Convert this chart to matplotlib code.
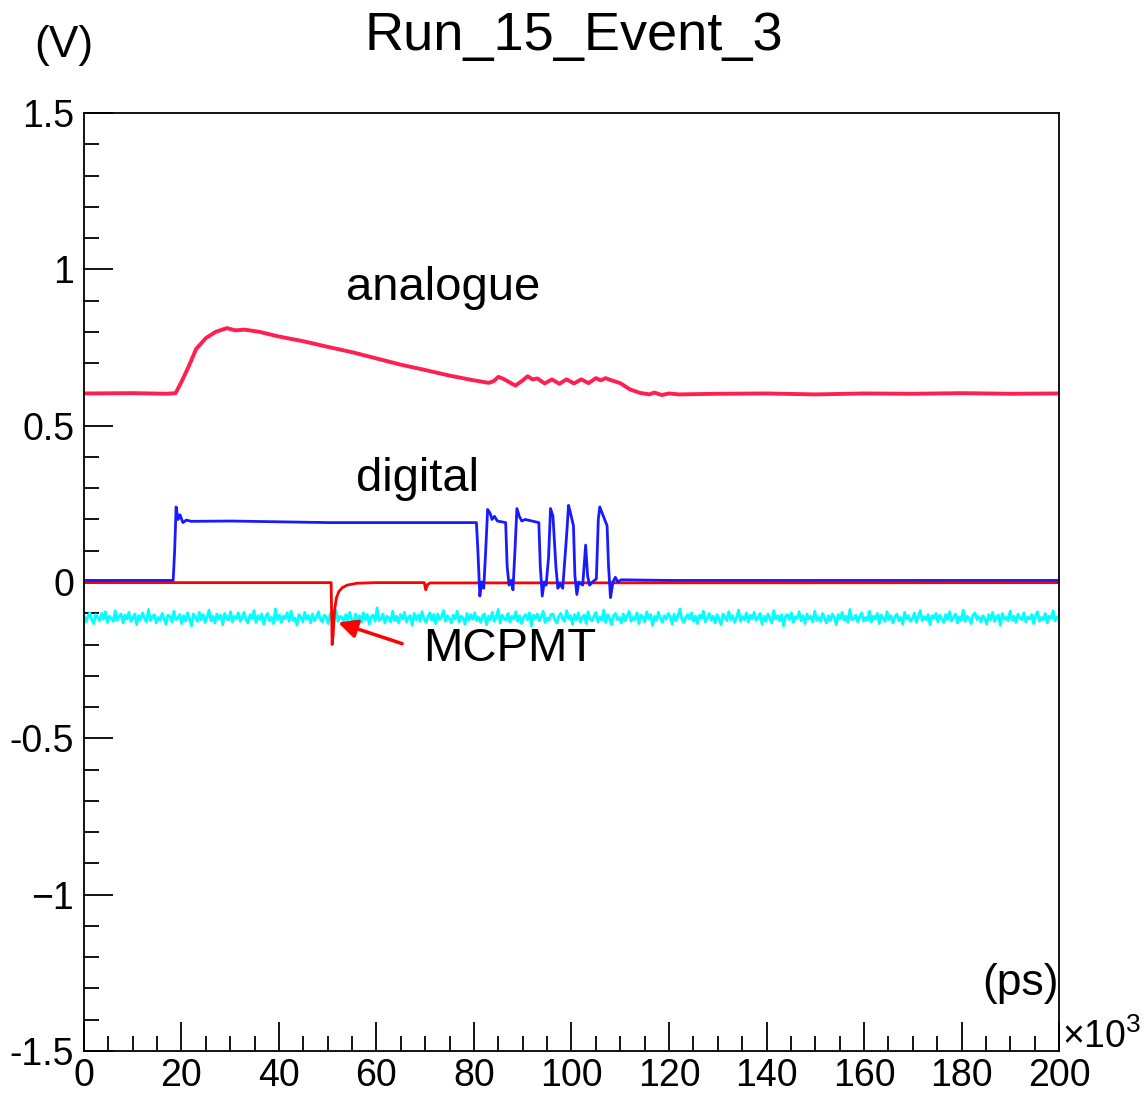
import numpy as np
import matplotlib
matplotlib.use("Agg")
import matplotlib.pyplot as plt
from matplotlib.ticker import MultipleLocator, FixedLocator, FixedFormatter

plt.rcParams['font.family'] = ['Liberation Sans', 'DejaVu Sans']
plt.rcParams['mathtext.fontset'] = 'custom'
plt.rcParams['mathtext.rm'] = 'Liberation Sans'

# time in units of 10^3 ps, amplitude in V
# analogue channel (pink-red)
analogue_t = [0, 10, 17, 18.8, 20, 21.5, 23, 25, 27, 29.3, 31, 33, 36, 40, 45, 50, 55, 60,
              65, 70, 75, 80, 83, 84, 85, 86, 88.5, 90, 91, 92, 93, 94.5, 96, 97.5, 99,
              100.5, 102, 103.5, 105, 106, 107, 108, 110, 112, 114, 116, 117, 118.5, 120,
              122, 130, 140, 150, 160, 170, 180, 190, 200]
analogue_v = [0.603, 0.604, 0.602, 0.604, 0.64, 0.69, 0.745, 0.78, 0.80, 0.812, 0.805, 0.807,
              0.80, 0.785, 0.77, 0.752, 0.735, 0.715, 0.695, 0.678, 0.66, 0.645, 0.637,
              0.642, 0.656, 0.65, 0.628, 0.645, 0.658, 0.648, 0.651, 0.635, 0.648, 0.634,
              0.648, 0.635, 0.648, 0.636, 0.652, 0.645, 0.652, 0.646, 0.636, 0.616, 0.605,
              0.600, 0.606, 0.598, 0.603, 0.600, 0.602, 0.603, 0.600, 0.603, 0.602, 0.604,
              0.602, 0.603]

# digital channel (blue)
digital_t = [0, 18.3, 18.6, 18.9, 19.3, 19.7, 20.3, 21, 22, 30, 50, 80.5, 80.8, 81.2, 81.6,
             82.0, 82.4, 82.8, 83.3, 83.7, 84.2, 84.8, 86.5, 86.8, 87.2, 87.6, 88.0, 88.4,
             88.8, 89.3, 89.8, 90.5, 93.3, 93.6, 94.0, 94.4, 94.8, 95.3, 95.7, 96.2, 96.8,
             97.2, 97.6, 98.2, 99.0, 99.4, 99.8, 100.4, 100.7, 101.1, 101.5, 102.3, 102.9,
             103.3, 103.7, 104.3, 105.1, 105.5, 105.8, 106.3, 107.3, 107.6, 108.0, 108.5,
             109.0, 109.5, 110.2, 120, 200]
digital_v = [0.005, 0.005, 0.10, 0.24, 0.20, 0.215, 0.19, 0.198, 0.194, 0.195, 0.19, 0.19,
             0.10, -0.045, 0.0, -0.02, 0.10, 0.232, 0.22, 0.20, 0.21, 0.195, 0.19, 0.05,
             -0.01, 0.005, -0.025, 0.10, 0.235, 0.21, 0.195, 0.20, 0.19, 0.05, -0.045, 0.0,
             -0.01, 0.08, 0.235, 0.21, 0.05, -0.02, -0.005, -0.02, 0.15, 0.245, 0.22, 0.18,
             0.02, -0.04, 0.0, -0.01, 0.118, 0.02, -0.01, 0.0, 0.01, 0.20, 0.24, 0.22, 0.18,
             0.05, -0.05, 0.0, 0.015, 0.0, 0.007, 0.005, 0.005]

# MCPMT channel (red)
mcp_t = [0, 50.7, 50.9, 51.1, 51.4, 51.8, 52.3, 53, 54, 56, 60, 69.8, 70.1, 70.5, 71, 200]
mcp_v = [-0.002, -0.002, -0.20, -0.17, -0.09, -0.05, -0.03, -0.018, -0.01, -0.004,
         -0.002, -0.002, -0.025, -0.008, -0.003, -0.002]

# fourth channel (cyan): baseline in mV, noise in digitiser counts
cyan_base_mv = -115
cyan_count_mv = 1.8
cyan_noise_counts = [
    4, -7, 2, 9, -3, -10, 6, 1, -5, 8, -2, 11, -8, 3, -1, -6, 13, -4, 2, 7,
    -9, 5, -2, 10, -6, 0, 7, -12, 4, -3, 9, -1, -7, 15, -5, 2, 6, -9, 1, -4,
    8, -2, -11, 5, 3, -7, 12, -3, 0, 6, -10, 4, -5, 9, -1, -14, 7, 2, -6, 10,
    -3, 6, -8, 1, 14, -5, 3, -9, 7, -2, 5, -12, 8, 0, -4, 11, -7, 3, -1, 9,
    -6, 2, 10, -4, -9, 6, -1, 13, -8, 4, -3, 7, -11, 2, 8, -5, 1, -10, 16, -3,
    5, -8, 3, -1, 9, -6, 12, -4, 0, -13, 6, 2, -7, 10, -2, 4, -9, 7, -5, 1,
    11, -3, -7, 5, 2, -10, 8, -1, -5, 14, -6, 3, 1, -9, 6, -4, 10, -2, -12, 7,
    -1, 4, -8, 9, -3, 6, -11, 2, 5, -6, 18, -4, -2, 7, -9, 3, 0, -7, 12, -5,
    3, -9, 6, -2, 10, -7, 1, 4, -13, 8, -3, 5, -6, 11, -1, -8, 2, 9, -4, 6,
    -10, 7, -3, 2, 13, -6, 4, -1, -9, 5, -2, 12, -7, 3, 0, -11, 8, -4, 6, -2,
    9, -5, 1, -8, 4, 7, -12, 3, -3, 10, -6, 2, 15, -9, 5, -1, -4, 8, -7, 3,
    -2, 11, -6, 4, -10, 1, 6, -3, 9, -14, 5, -1, 7, -5, 2, 12, -8, 0, -4, 6,
    7, -4, -9, 3, 8, -2, -6, 13, -1, 4, -11, 6, -3, 9, -7, 1, 5, -10, 11, -2,
    -5, 3, 10, -7, 2, -4, 14, -8, 6, -1, -12, 4, 8, -3, 1, -9, 7, -5, 3, 12,
    -6, 1, -3, 9, -10, 5, 2, -7, 11, -2, 6, -13, 3, -4, 10, -1, -8, 4, -2, 8,
    2, -11, 7, -5, 4, 16, -3, -8, 1, 6, -2, 9, -6, 3, -10, 5, -1, 12, -7, 0,
    8, -4, 3, -9, 6, -1, -12, 7, 2, -5, 11, -3, 4, -8, 1, 14, -6, 2, -3, 9,
    -7, 5, -2, 10, -4, 1, 8, -11, 3, -6, 7, 0, -9, 13, -2, 4, -5, 6, -14, 3,
    6, -3, 9, -8, 2, -1, 11, -5, 4, -10, 7, -2, 3, -7, 12, -4, 1, -6, 8, -1,
    -9, 4, -5, 7, 1, -12, 6, -2, 10, -4, 3, -8, 15, -3, -1, 5, -7, 2, 9, -6,
    1, -4, 12, -7, 3, -2, 8, -10, 5, 0, -6, 11, -3, 4, -9, 2, 7, -5, 1, -11,
    10, -2, 4, -6, -1, 9, -8, 3, 13, -5, 2, -3, 6, -12, 4, -1, 8, -7, 5, -2,
    -8, 6, -3, 11, -5, 1, 7, -9, 2, -4, 14, -6, 3, -1, -10, 5, 9, -3, 2, -7,
    4, -1, -11, 6, -3, 10, -6, 2, 5, -13, 8, -2, 1, -5, 12, -4, 3, -8, 7, 0,
    -3, 9, -7, 2, -2, 6, -10, 4, 11, -6, 1, -3, 8, -9, 3, -1, 13, -5, 2, -4]

y_ticks = [-1.5, -1, -0.5, 0, 0.5, 1, 1.5]
y_tick_labels = ['-1.5', '\u22121', '-0.5', '0', '0.5', '1', '1.5']

cyan_v = (cyan_base_mv + cyan_count_mv * np.array(cyan_noise_counts)) / 1000.0
cyan_t = np.linspace(0, 200, len(cyan_v))

fig = plt.figure(figsize=(11.47, 10.95), dpi=100)
ax = fig.add_axes([0.0732, 0.0402, 0.8501, 0.8566])

ax.plot(cyan_t, cyan_v, color='#00ffff', lw=2.0)
ax.plot(mcp_t, mcp_v, color='#ff0000', lw=2.0)
ax.plot(digital_t, digital_v, color='#1a1aff', lw=2.0)
ax.plot(analogue_t, analogue_v, color='#ff1f50', lw=2.8)

ax.set_xlim(0, 200)
ax.set_ylim(-1.5, 1.5)

ax.xaxis.set_major_locator(MultipleLocator(20))
ax.xaxis.set_minor_locator(MultipleLocator(5))
ax.yaxis.set_major_locator(FixedLocator(y_ticks))
ax.yaxis.set_major_formatter(FixedFormatter(y_tick_labels))
ax.yaxis.set_minor_locator(MultipleLocator(0.1))

ax.tick_params(which='both', direction='in', top=False, right=False, width=1.3,
               labelsize=27, color='black')
ax.tick_params(which='major', length=21)
ax.tick_params(which='minor', length=10.5)
ax.tick_params(axis='y', pad=7)
ax.tick_params(axis='x', pad=5)
for s in ax.spines.values():
    s.set_linewidth(1.3)

fig.text(0.5, 0.967, 'Run_15_Event_3', ha='center', va='center', fontsize=39)
fig.text(0.030, 0.958, '(V)', ha='left', va='center', fontsize=32)
ax.text(200, -1.285, '(ps)', ha='right', va='center', fontsize=32)
fig.text(0.926, 0.053, '\u00d710$^{3}$', ha='left', va='center', fontsize=27)

ax.text(73.6, 0.94, 'analogue', ha='center', va='center', fontsize=34)
ax.text(68.5, 0.33, 'digital', ha='center', va='center', fontsize=34)
ax.text(69.5, -0.215, 'MCPMT', ha='left', va='center', fontsize=34)
ax.annotate('', xy=(51.6, -0.127), xytext=(65.8, -0.2),
            arrowprops=dict(arrowstyle='-|>', color='red', lw=2.5, mutation_scale=28))

fig.savefig('out.png', dpi=100)
